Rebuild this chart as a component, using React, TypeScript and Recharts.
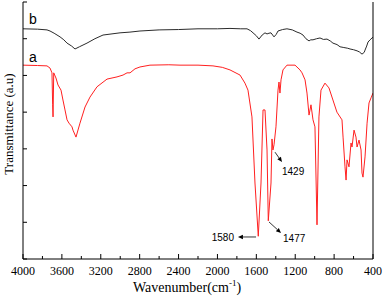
import { LineChart, Line, XAxis, YAxis, ReferenceLine } from 'recharts'

// spectrum b (black, upper trace)
const bWavenumber = [
  4000, 3850, 3753, 3722, 3680, 3619, 3580, 3547, 3500, 3465, 3420, 3342, 3260, 3177, 3002, 2900,
  2797, 2600, 2400, 2200, 2000, 1871, 1760, 1696, 1660, 1634, 1600, 1573, 1540, 1511, 1490, 1470,
  1449, 1418, 1395, 1377, 1330, 1285, 1230, 1182, 1150, 1120, 1090, 1058, 1040, 1017, 980, 945,
  910, 873, 840, 812, 770, 739, 700, 660, 636, 600, 564, 540, 513, 490, 482, 465, 451, 430, 410, 400,
]
const bValue = [
  6.27, 6.26, 6.24, 6.21, 6.15, 6.05, 5.97, 5.88, 5.8, 5.72, 5.78, 5.88, 6.0, 6.1, 6.16, 6.18,
  6.21, 6.24, 6.25, 6.27, 6.27, 6.28, 6.27, 6.27, 6.22, 6.16, 6.08, 5.99, 6.1, 6.16, 6.13, 6.15,
  6.16, 6.05, 6.12, 6.21, 6.25, 6.27, 6.24, 6.18, 6.15, 6.1, 6.0, 5.94, 5.97, 5.97, 6.0, 6.02,
  5.98, 5.99, 5.94, 5.88, 5.84, 5.78, 5.76, 5.74, 5.72, 5.7, 5.67, 5.64, 5.58, 5.63, 5.69, 5.8,
  5.91, 5.97, 6.02, 6.04,
]

// spectrum a (red, lower trace)
const aWavenumber = [
  4000, 3850, 3753, 3722, 3702, 3695, 3691, 3684, 3661, 3640, 3609, 3589, 3568, 3547, 3527, 3496,
  3486, 3455, 3414, 3362, 3311, 3239, 3136, 3033, 2971, 2930, 2899, 2848, 2797, 2694, 2500, 2385,
  2200, 2046, 1950, 1871, 1768, 1717, 1686, 1645, 1614, 1580, 1552, 1531, 1511, 1490, 1477, 1449,
  1439, 1429, 1418, 1398, 1377, 1367, 1357, 1346, 1326, 1285, 1202, 1151, 1130, 1099, 1079, 1058,
  1038, 1017, 997, 976, 956, 935, 894, 853, 812, 771, 719, 708, 688, 677, 667, 647, 626, 616, 595,
  575, 564, 544, 523, 513, 503, 482, 461, 441, 420, 400,
]
const aValue = [
  5.28, 5.27, 5.26, 5.2, 5.07, 4.2, 3.87, 5.07, 4.93, 4.74, 4.6, 4.33, 4.06, 3.79, 3.7, 3.6,
  3.51, 3.32, 3.7, 4.14, 4.41, 4.69, 4.9, 4.96, 5.01, 5.07, 5.07, 5.18, 5.23, 5.28, 5.29, 5.28,
  5.28, 5.26, 5.22, 5.15, 5.01, 4.79, 4.6, 3.87, 2.07, 0.62, 2.07, 4.06, 4.06, 2.97, 1.04, 2.07,
  3.27, 2.97, 3.11, 3.6, 4.6, 4.82, 4.52, 4.88, 5.15, 5.28, 5.28, 5.15, 5.07, 4.88, 4.52, 3.92,
  4.2, 3.79, 3.6, 0.93, 3.87, 4.6, 4.79, 4.66, 4.33, 4.0, 3.79, 3.32, 2.51, 2.15, 2.7, 2.51, 3.16,
  3.05, 3.51, 3.32, 3.05, 3.24, 2.97, 2.34, 2.23, 2.78, 3.7, 4.25, 4.39, 4.52,
]

const xTicks = [4000, 3800, 3600, 3400, 3200, 3000, 2800, 2600, 2400, 2200, 2000, 1800, 1600, 1400, 1200, 1000, 800, 600, 400]
const yTicks = [0, 1, 2, 3, 4, 5, 6, 7]

// peak annotations: label, arrow start (wn, value), arrow tip (wn, value)
const peakLabels = ['1580', '1477', '1429']
const arrowFrom = [[1603, 0.6], [1470, 1.01], [1408, 2.91]]
const arrowTo = [[1789, 0.6], [1346, 0.71], [1336, 2.64]]
const labelOffset = [[-4, 4, 'end'], [2, 9, 'start'], [0, 13, 'start']]

// trace names
const traceNames = ['b', 'a']
const traceNamePos = [[3938, 6.4], [3938, 5.37]]

const bData = bWavenumber.map((wn, i) => ({ wn, v: bValue[i] }))
const aData = aWavenumber.map((wn, i) => ({ wn, v: aValue[i] }))

const SERIF = 'Times New Roman'
const SANS = 'Arial'

function XTick(props: any) {
  const { x, y, payload } = props
  const major = payload.value % 400 === 0
  return (
    <g>
      <line x1={x} x2={x} y1={y} y2={y - (major ? 5 : 3)} stroke="#000" strokeWidth={1} />
      {major && (
        <text x={x} y={y + 16} textAnchor="middle" fontFamily={SERIF} fontSize={12} fill="#000">
          {payload.value}
        </text>
      )}
    </g>
  )
}

function YTick(props: any) {
  const { x, y } = props
  return <line x1={x} x2={x + 4} y1={y} y2={y} stroke="#000" strokeWidth={1} />
}

function Arrow(props: any, i: number) {
  const { x1, y1, x2, y2 } = props
  if (x1 == null) return <g />
  const ang = Math.atan2(y2 - y1, x2 - x1)
  const len = 5
  const w = 2.2
  const bx = x2 - len * Math.cos(ang)
  const by = y2 - len * Math.sin(ang)
  const pts = `${x2},${y2} ${bx - w * Math.sin(ang)},${by + w * Math.cos(ang)} ${bx + w * Math.sin(ang)},${by - w * Math.cos(ang)}`
  const [dx, dy, anchor] = labelOffset[i]
  return (
    <g>
      <line x1={x1} y1={y1} x2={bx} y2={by} stroke="#000" strokeWidth={0.8} />
      <polygon points={pts} fill="#000" />
      <text x={x2 + (dx as number)} y={y2 + (dy as number)} textAnchor={anchor as any} fontFamily={SANS} fontSize={10} fill="#000">
        {peakLabels[i]}
      </text>
    </g>
  )
}

function TraceName(props: any, i: number) {
  const { x1, y1 } = props
  if (x1 == null) return <g />
  return (
    <text x={x1} y={y1} fontFamily={SANS} fontSize={14} fill="#000">
      {traceNames[i]}
    </text>
  )
}

export default function App() {
  return (
    <div style={{ position: 'absolute', left: 0, top: 0, width: 383, height: 298, background: '#fff' }}>
      <LineChart width={383} height={298} margin={{ top: 2, right: 0, bottom: 0, left: 0 }}>
        <XAxis
          xAxisId="main"
          type="number"
          dataKey="wn"
          domain={[400, 4000]}
          reversed
          allowDataOverflow
          ticks={xTicks}
          interval={0}
          tickSize={0}
          tickMargin={0}
          tickLine={false}
          tick={<XTick />}
          height={39}
          axisLine={{ stroke: '#000' }}
          label={{
            content: () => (
              <text x={187} y={292} textAnchor="middle" fontFamily={SERIF} fontSize={14} fill="#000">
                Wavenumber(cm
                <tspan fontSize={9} dy={-6}>-1</tspan>
                <tspan dy={6}>)</tspan>
              </text>
            ),
          }}
        />
        <XAxis
          xAxisId="top"
          orientation="top"
          type="number"
          domain={[400, 4000]}
          reversed
          height={0}
          tick={false}
          tickLine={false}
          axisLine={{ stroke: '#000' }}
        />
        <YAxis
          yAxisId="main"
          type="number"
          domain={[0, 7]}
          ticks={yTicks}
          interval={0}
          tickSize={0}
          tickMargin={0}
          tickLine={false}
          tick={<YTick />}
          width={23}
          axisLine={{ stroke: '#000' }}
          label={{
            content: () => (
              <text
                x={13}
                y={124}
                transform="rotate(-90, 13, 124)"
                textAnchor="middle"
                fontFamily={SERIF}
                fontSize={13}
                fill="#000"
              >
                Transmittance (a.u)
              </text>
            ),
          }}
        />
        <YAxis
          yAxisId="right"
          orientation="right"
          type="number"
          domain={[0, 7]}
          width={10}
          tick={false}
          tickLine={false}
          axisLine={{ stroke: '#000' }}
        />
        <Line
          xAxisId="main"
          yAxisId="main"
          data={bData}
          dataKey="v"
          type="linear"
          stroke="#2b2b2b"
          strokeWidth={1}
          dot={false}
          isAnimationActive={false}
        />
        <Line
          xAxisId="main"
          yAxisId="main"
          data={aData}
          dataKey="v"
          type="linear"
          stroke="#ff2020"
          strokeWidth={1}
          dot={false}
          isAnimationActive={false}
        />
        {peakLabels.map((_, i) => (
          <ReferenceLine
            key={`arrow-${i}`}
            xAxisId="main"
            yAxisId="main"
            segment={[
              { x: arrowFrom[i][0], y: arrowFrom[i][1] },
              { x: arrowTo[i][0], y: arrowTo[i][1] },
            ]}
            shape={(p: any) => Arrow(p, i)}
          />
        ))}
        {traceNames.map((_, i) => (
          <ReferenceLine
            key={`name-${i}`}
            xAxisId="main"
            yAxisId="main"
            segment={[
              { x: traceNamePos[i][0], y: traceNamePos[i][1] },
              { x: traceNamePos[i][0] - 1, y: traceNamePos[i][1] },
            ]}
            shape={(p: any) => TraceName(p, i)}
          />
        ))}
      </LineChart>
    </div>
  )
}
